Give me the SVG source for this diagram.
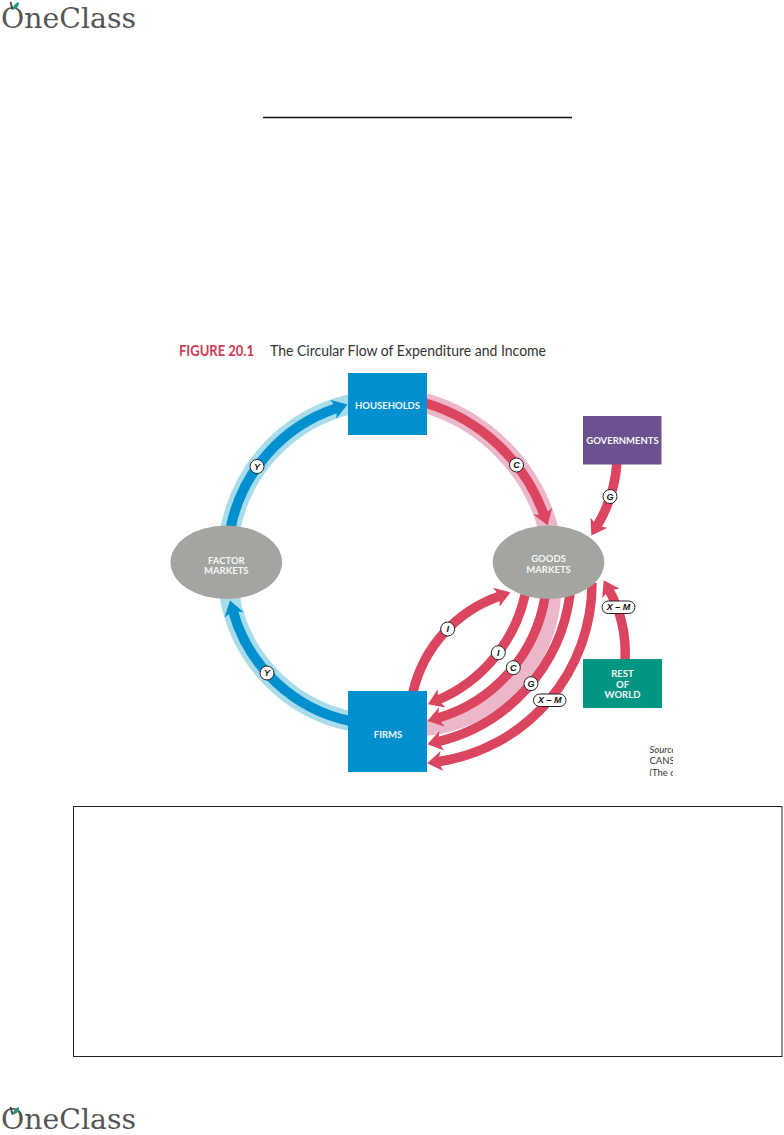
<svg xmlns="http://www.w3.org/2000/svg" width="784" height="1135" viewBox="0 0 784 1135">
<style>
.flow{fill:none;stroke-linecap:butt}
.red{stroke:#dc4560;stroke-width:9.500}
.pink{stroke:#ebb7c9;stroke-width:16}
.pinkw{stroke:#ebb7c9;stroke-width:20}
.blue{stroke:#0090d0;stroke-width:10}
.sky{stroke:#a8dcea;stroke-width:20}
.tag{fill:#fff;stroke:#222;stroke-width:1}
.tagt{font:italic bold 9px "Liberation Sans",Arial,sans-serif;fill:#111;text-anchor:middle}
.nt{font:bold 9.500px Lato,"Liberation Sans",sans-serif;fill:#f4f6f4;text-anchor:middle}
.logo{font:28px "DejaVu Serif",serif;fill:#555}
.src{font:9.500px Lato,"Liberation Sans",sans-serif;fill:#333}
.srci{font:italic 9.500px Lato,"Liberation Sans",sans-serif;fill:#333}
.ttl{font-family:Lato,"Liberation Sans",sans-serif;font-size:14.500px}
</style>
<defs>
<marker id="hr" markerUnits="userSpaceOnUse" markerWidth="24" markerHeight="26" refX="5" refY="13" orient="auto"><path d="M1 3L16 13L1 23L5 13Z" fill="#dc4560"/></marker>
<marker id="hb" markerUnits="userSpaceOnUse" markerWidth="24" markerHeight="26" refX="5" refY="13" orient="auto"><path d="M1 3L16 13L1 23L5 13Z" fill="#0090d0"/></marker>
<clipPath id="cut"><rect x="640" y="740" width="33" height="36"/></clipPath>
</defs>
<rect width="784" height="1135" fill="#fff"/>

<g id="logo-top">
<text class="logo" x="1" y="28" textLength="135" lengthAdjust="spacingAndGlyphs">OneClass</text>
<path d="M12.500 9.500C13 5.500 15.500 3 19 2C19 6 17.500 9 12.500 9.500Z" fill="#1f9a7d"/>
<path d="M10.500 2L12.500 9.500" stroke="#444" stroke-width="1.800"/>
</g>
<path id="title-rule" d="M263 117.500H572" stroke="#111" stroke-width="1.500"/>

<text class="ttl" x="179" y="356" font-weight="700" fill="#cf3a52" textLength="75" lengthAdjust="spacingAndGlyphs">FIGURE 20.1</text>
<text class="ttl" x="270" y="356" fill="#333" textLength="276" lengthAdjust="spacingAndGlyphs">The Circular Flow of Expenditure and Income</text>

<g id="connectors">
<path class="flow sky" d="M230.200 530A159.600 159.600 0 0 1 350 404.200"/>
<path class="flow blue" d="M230.200 530A159.600 159.600 0 0 1 337 408" marker-end="url(#hb)"/>
<path class="flow sky" d="M350 721A154.900 154.900 0 0 1 229.600 596"/>
<path class="flow blue" d="M350 721A154.900 154.900 0 0 1 233 611" marker-end="url(#hb)"/>
<path class="flow pinkw" d="M425 403A179.500 179.500 0 0 1 548.700 530"/>
<path class="flow red" d="M425 403A179.500 179.500 0 0 1 544 515" marker-end="url(#hr)"/>
<path class="flow red" d="M617 462A142 142 0 0 1 597 526" marker-end="url(#hr)"/>
<path class="flow red" d="M625 660A130 130 0 0 0 609 590" marker-end="url(#hr)"/>
<path class="flow red" d="M413 692A134 134 0 0 1 500 596" marker-end="url(#hr)"/>
<path class="flow red" d="M525 595A150 150 0 0 1 438 700" marker-end="url(#hr)"/>
<path class="flow pink" d="M553 596A141.600 141.600 0 0 1 425 728"/>
<path class="flow red" d="M545 597A152 152 0 0 1 438 718" marker-end="url(#hr)"/>
<path class="flow red" d="M570 594A174.500 174.500 0 0 1 438 741.700" marker-end="url(#hr)"/>
<path class="flow red" d="M592 583A180 180 0 0 1 438 761.700" marker-end="url(#hr)"/>
<g id="flow-labels">
<circle class="tag" cx="257" cy="466.500" r="7"/><text class="tagt" x="257" y="469.700">Y</text>
<circle class="tag" cx="267" cy="673" r="7"/><text class="tagt" x="267" y="676.200">Y</text>
<circle class="tag" cx="516.500" cy="465" r="7"/><text class="tagt" x="516.500" y="468.200">C</text>
<circle class="tag" cx="610" cy="496.500" r="7"/><text class="tagt" x="610" y="499.700">G</text>
<circle class="tag" cx="447.700" cy="629" r="7"/><text class="tagt" x="447.700" y="632.200">I</text>
<circle class="tag" cx="498.300" cy="652.700" r="7"/><text class="tagt" x="498.300" y="655.900">I</text>
<circle class="tag" cx="513.300" cy="667.700" r="7"/><text class="tagt" x="513.300" y="670.900">C</text>
<circle class="tag" cx="531" cy="683.700" r="7"/><text class="tagt" x="531" y="686.900">G</text>
<rect class="tag" x="602" y="601" width="33" height="12.500" rx="6.200"/><text class="tagt" x="618.500" y="610.400">X – M</text>
<rect class="tag" x="533.500" y="694" width="32.500" height="12.500" rx="6.200"/><text class="tagt" x="549.700" y="703.400">X – M</text>
</g>
</g>

<g id="households"><rect x="348" y="373" width="79" height="62" fill="#0090d0"/><text class="nt" x="387.500" y="408.500">HOUSEHOLDS</text></g>
<g id="firms"><rect x="348" y="691" width="79" height="81" fill="#0090d0"/><text class="nt" x="388" y="738">FIRMS</text></g>
<g id="governments"><rect x="583" y="416" width="78.500" height="48.500" fill="#6b5190"/><text class="nt" x="622.500" y="444">GOVERNMENTS</text></g>
<g id="rest-of-world"><rect x="583" y="659" width="79" height="49" fill="#009681"/><text class="nt" x="622.500" y="677">REST</text><text class="nt" x="622.500" y="687.500">OF</text><text class="nt" x="622.500" y="698">WORLD</text></g>
<g id="factor-markets"><ellipse cx="226.300" cy="562.300" rx="55.800" ry="36.800" fill="#a3a5a1"/><text class="nt" x="226.300" y="563.500">FACTOR</text><text class="nt" x="226.300" y="574">MARKETS</text></g>
<g id="goods-markets"><ellipse cx="548.500" cy="562.300" rx="55.800" ry="36.800" fill="#a3a5a1"/><text class="nt" x="548.500" y="562">GOODS</text><text class="nt" x="548.500" y="573">MARKETS</text></g>

<g clip-path="url(#cut)">
<text class="srci" x="649.500" y="752.500">Source</text>
<text class="src" x="649.500" y="764">CANSIM</text>
<text class="src" x="649.500" y="775.500">(The data</text>
</g>

<rect id="note-box" x="73.500" y="806.500" width="708.500" height="250" fill="none" stroke="#222" stroke-width="1"/>

<g id="logo-bottom">
<text class="logo" x="1" y="1129" textLength="135" lengthAdjust="spacingAndGlyphs" style="font-size:27px">OneClass</text>
<path d="M12.500 1114.500C13 1110.500 15.500 1108 19 1107C19 1111 17.500 1114 12.500 1114.500Z" fill="#1f9a7d"/>
<path d="M10.500 1107L12.500 1114.500" stroke="#444" stroke-width="1.800"/>
</g>
</svg>
